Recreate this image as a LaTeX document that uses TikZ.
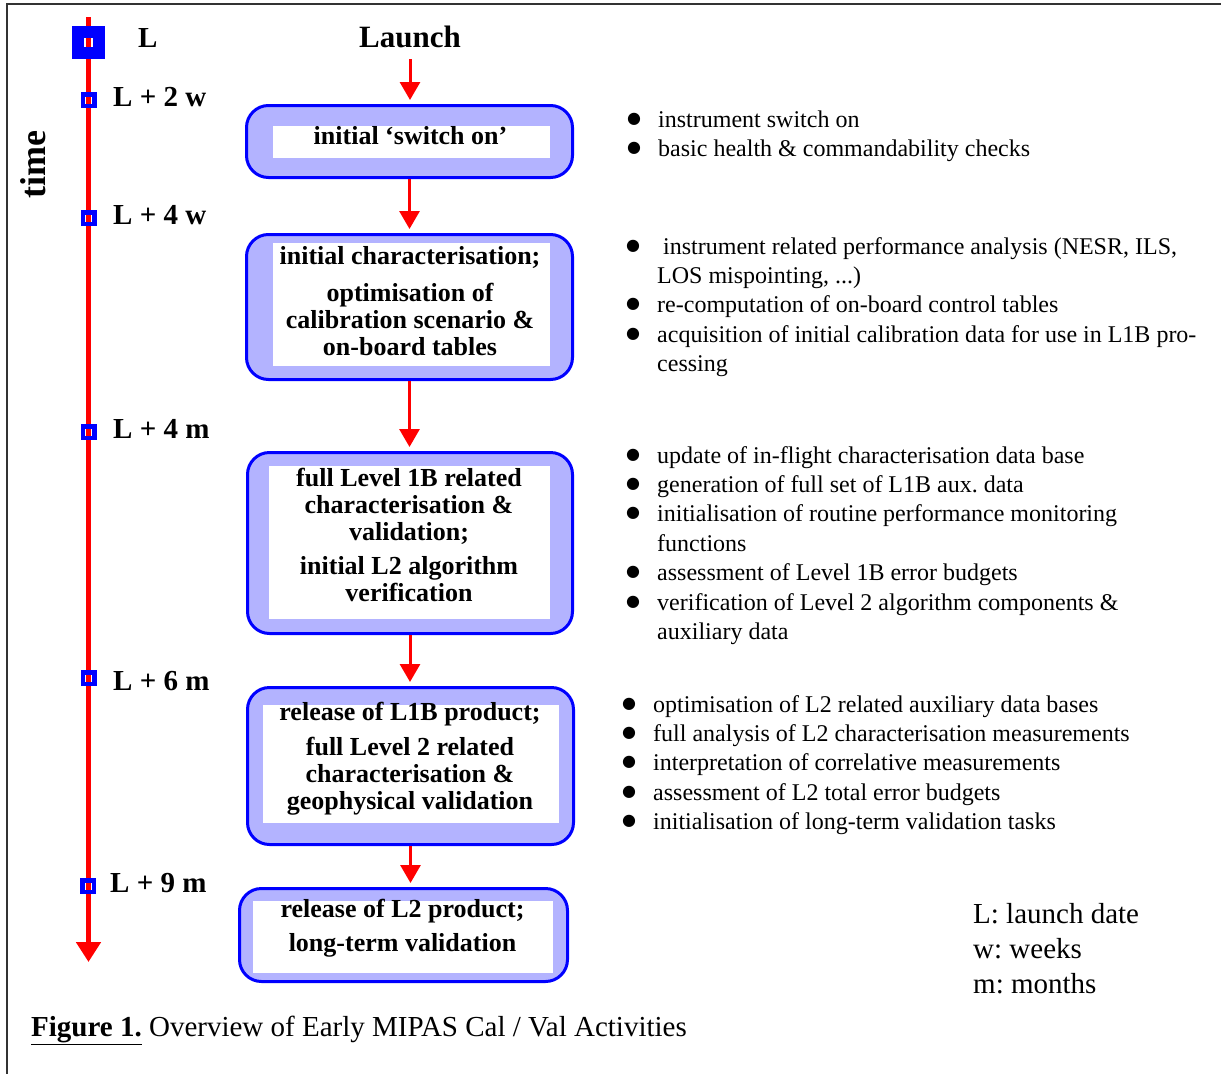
\documentclass[tikz,border=0pt]{standalone}
\usepackage{fontspec}
\setmainfont{Liberation Serif}
\newfontfamily\symfont{DejaVu Sans}
\usetikzlibrary{positioning, arrows.meta}
\definecolor{panelblue}{RGB}{179,179,255}
\newcommand{\bul}{\raisebox{4pt}{\symfont\fontsize{16}{16}\selectfont ●}}
\frenchspacing

\begin{document}
\begin{tikzpicture}[
		x=1pt, y=-1pt,
		% Styles
		stage/.style={rectangle, draw=blue, line width=3pt, fill=panelblue, rounded corners=22pt, inner sep=0pt},
		panel/.style={rectangle, fill=white, inner sep=0pt},
		stagetext/.style={align=center, inner sep=0pt, font=\fontsize{26}{27}\selectfont\bfseries},
		milestone/.style={rectangle, draw=blue, line width=4.5pt, minimum size=11.5pt, inner sep=0pt},
		timelabel/.style={anchor=west, inner sep=0pt, font=\fontsize{29}{30}\selectfont\bfseries},
		notes/.style={anchor=base west, inner sep=0pt, font=\fontsize{24}{29.4}\selectfont},
		arrow/.style={-{Triangle[width=20pt,length=18pt]}, draw=red, line width=3pt, shorten >=4pt},
		timeline/.style={-{Triangle[width=24pt,length=20pt]}, draw=red, line width=5pt}
	]
	\useasboundingbox (0,0) rectangle (1221,1074);

	% --- Frame ---
	\draw[line width=2pt, black!80] (1221,4) -- (7,4) -- (7,1074);

	% --- Time axis ---
	\coordinate (tl_start) at (88.5,17);
	\coordinate (tl_end) at (88.5,962);
	\draw[timeline] (tl_start) -- (tl_end);
	\node[font=\fontsize{36}{36}\selectfont\bfseries, rotate=90] (time_lbl) at (33,165) {time};

	\node[milestone, line width=12pt, minimum size=21pt] (m_launch) at (88.5,42.5) {};
	\node[milestone] (m_2w) at (88.5,100) {};
	\node[milestone] (m_4w) at (88.5,218) {};
	\node[milestone] (m_4m) at (88.5,432) {};
	\node[milestone] (m_6m) at (88.5,678) {};
	\node[milestone] (m_9m) at (88,886) {};

	\node[timelabel] (lbl_launch) at (138,38) {L};
	\node[timelabel] (lbl_2w) at (113,97) {L + 2 w};
	\node[timelabel] (lbl_4w) at (113,215) {L + 4 w};
	\node[timelabel] (lbl_4m) at (113,429) {L + 4 m};
	\node[timelabel] (lbl_6m) at (113,681) {L + 6 m};
	\node[timelabel] (lbl_9m) at (110,883) {L + 9 m};

	% --- Stages ---
	\node[font=\fontsize{31}{32}\selectfont\bfseries] (launch) at (410,37) {Launch};

	\node[stage, minimum width=326pt, minimum height=72pt] (switch_on) at (409.5,141.5) {};
	\node[panel, minimum width=277pt, minimum height=32pt] (switch_on_p) at (411.5,142) {};
	\node[stagetext] (switch_on_t) at (410.5,136) {initial ‘switch on’};

	\node[stage, minimum width=326pt, minimum height=145pt] (init_char) at (409.5,307) {};
	\node[panel, minimum width=277pt, minimum height=123pt] (init_char_p) at (411.5,304.5) {};
	\node[stagetext] (init_char_t) at (410,301) {initial characterisation;\\[10pt]
		optimisation of\\ calibration scenario \&\\ on-board tables};

	\node[stage, minimum width=325pt, minimum height=181pt] (l1b_val) at (410,543) {};
	\node[panel, minimum width=281pt, minimum height=153pt] (l1b_val_p) at (409.5,542.5) {};
	\node[stagetext] (l1b_val_t) at (409,534.5) {full Level 1B related\\ characterisation \&\\ validation;\\[7pt]
		initial L2 algorithm\\ verification};

	\node[stage, minimum width=326pt, minimum height=157pt] (l2_val) at (410.5,766) {};
	\node[panel, minimum width=296pt, minimum height=118pt] (l2_val_p) at (411,764) {};
	\node[stagetext] (l2_val_t) at (410,759) {release of L1B product;\\[8pt]
		full Level 2 related\\ characterisation \&\\ geophysical validation};

	\node[stage, minimum width=328pt, minimum height=93pt] (l2_release) at (403.5,935) {};
	\node[panel, minimum width=300pt, minimum height=72pt] (l2_release_p) at (403,937) {};
	\node[stagetext] (l2_release_t) at (402.5,928) {release of L2 product;\\[7pt]
		long-term validation};

	% --- Arrows ---
	\draw[arrow, shorten <=8pt] (launch) -- (launch |- switch_on.north);
	\draw[arrow] (switch_on) -- (switch_on |- init_char.north);
	\draw[arrow] (init_char) -- (init_char |- l1b_val.north);
	\draw[arrow] (l1b_val) -- (l1b_val |- l2_val.north);
	\draw[arrow] (l2_val) -- (l2_val |- l2_release.north);

	% --- Activity notes ---
	\node[notes] (notes_switch) at (627,127.5) {\begin{tabular}[t]{@{}p{31pt}@{}l@{}}
		\bul & instrument switch on\\
		\bul & basic health \& commandability checks
	\end{tabular}};
	\node[notes] (notes_char) at (626,254) {\begin{tabular}[t]{@{}p{31pt}@{}l@{}}
		\bul & \hspace{6pt}instrument related performance analysis (NESR, ILS,\\
		     & LOS mispointing, ...)\\
		\bul & re-computation of on-board control tables\\
		\bul & acquisition of initial calibration data for use in L1B pro-\\
		     & cessing
	\end{tabular}};
	\node[notes] (notes_l1b) at (626,463) {\begin{tabular}[t]{@{}p{31pt}@{}l@{}}
		\bul & update of in-flight characterisation data base\\
		\bul & generation of full set of L1B aux. data\\
		\bul & initialisation of routine performance monitoring\\
		     & functions\\
		\bul & assessment of Level 1B error budgets\\
		\bul & verification of Level 2 algorithm components \&\\
		     & auxiliary data
	\end{tabular}};
	\node[notes] (notes_l2) at (622,712) {\begin{tabular}[t]{@{}p{31pt}@{}l@{}}
		\bul & optimisation of L2 related auxiliary data bases\\
		\bul & full analysis of L2 characterisation measurements\\
		\bul & interpretation of correlative measurements\\
		\bul & assessment of L2 total error budgets\\
		\bul & initialisation of long-term validation tasks
	\end{tabular}};

	% --- Legend and caption ---
	\node[anchor=west, align=left, inner sep=0pt, font=\fontsize{29}{35}\selectfont] (legend) at (973,949)
		{L: launch date\\ w: weeks\\ m: months};
	\node[anchor=base west, inner sep=0pt, font=\fontsize{29}{30}\selectfont] (caption) at (31,1036)
		{\underline{\textbf{Figure 1.}} Overview of Early MIPAS Cal / Val Activities};

\end{tikzpicture}
\end{document}
